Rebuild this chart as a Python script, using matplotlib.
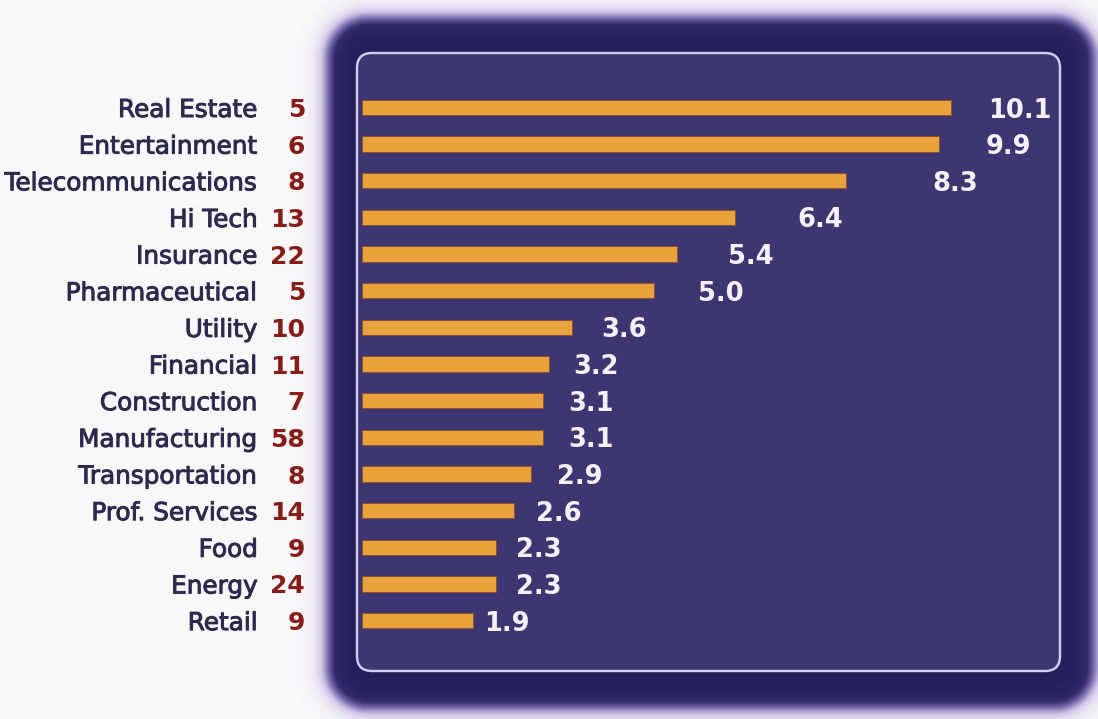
import numpy as np
import matplotlib
matplotlib.use("Agg")
import matplotlib.pyplot as plt
import matplotlib.patheffects as pe
from matplotlib.colors import LinearSegmentedColormap
from matplotlib.patches import FancyBboxPatch

# ---- data ----
categories = ["Real Estate", "Entertainment", "Telecommunications", "Hi Tech",
              "Insurance", "Pharmaceutical", "Utility", "Financial",
              "Construction", "Manufacturing", "Transportation",
              "Prof. Services", "Food", "Energy", "Retail"]
counts = [5, 6, 8, 13, 22, 5, 10, 11, 7, 58, 8, 14, 9, 24, 9]
values = [10.1, 9.9, 8.3, 6.4, 5.4, 5.0, 3.6, 3.2, 3.1, 3.1, 2.9, 2.6, 2.3, 2.3, 1.9]

# gap between bar end and its value label (pixels)
value_gap_px = [37, 46, 86, 62, 51, 45, 29, 25, 26, 26, 26, 22, 20, 20, 11]

W, H, DPI = 1098, 719, 100
PX = 72.0 / DPI  # points per pixel

fig = plt.figure(figsize=(W / DPI, H / DPI), dpi=DPI)
fig.patch.set_facecolor("#f8f8f9")

# ---- soft-edged dark panel behind the chart ----
bg = fig.add_axes([0, 0, 1, 1])
bg.set_xlim(0, W)
bg.set_ylim(H, 0)
bg.axis("off")

yy, xx = np.mgrid[0:H, 0:W] + 0.5
cx, cy = (328 + 1094) / 2, (18 + 708) / 2
hx, hy = (1094 - 328) / 2, (708 - 18) / 2
r = 40
qx = np.abs(xx - cx) - (hx - r)
qy = np.abs(yy - cy) - (hy - r)
dist = np.hypot(np.maximum(qx, 0), np.maximum(qy, 0)) + np.minimum(np.maximum(qx, qy), 0) - r
m = 1.0 / (1.0 + np.exp(dist / 6.0))
edge_cmap = LinearSegmentedColormap.from_list(
    "panel_edge", ["#f8f8f9", "#d0c8e6", "#7d6eb2", "#342c6c", "#25205b"])
img = edge_cmap(m)[..., :3]
bg.imshow(img, extent=[0, W, H, 0], interpolation="bilinear", zorder=0)

inner = FancyBboxPatch((357, 53), 1060 - 357, 671 - 53,
                       boxstyle="round,pad=0,rounding_size=15",
                       facecolor="#3d3671", edgecolor="#d3cef0",
                       linewidth=2.4 * PX, zorder=1)
bg.add_patch(inner)

# ---- bar chart ----
x0, x1 = 362, 1060
top, bottom = 53, 671
px_per_unit = 58.3
row0, row_step = 107.5, 36.65

ax = fig.add_axes([x0 / W, 1 - bottom / H, (x1 - x0) / W, (bottom - top) / H])
ax.patch.set_alpha(0)
for s in ax.spines.values():
    s.set_visible(False)
ax.set_xlim(0, (x1 - x0) / px_per_unit)
ax.set_ylim((bottom - row0) / row_step, (top - row0) / row_step)

ypos = np.arange(len(categories))
ax.barh(ypos, values, height=0.42, color="#e9a13b",
        edgecolor="#8e5130", linewidth=0.7, zorder=3)

ax.set_xticks([])
ax.set_yticks(ypos, categories)
ax.tick_params(axis="y", length=0, pad=(x0 - 258) * PX,
               labelsize=17.8, labelcolor="#2c2a4e")
label_stroke = [pe.withStroke(linewidth=0.7, foreground="#2c2a4e")]
for t in ax.get_yticklabels():
    t.set_path_effects(label_stroke)

ytr = ax.get_yaxis_transform()
for yi, c in zip(ypos, counts):
    ax.text((305 - x0) / (x1 - x0), yi, str(c), transform=ytr,
            ha="right", va="center_baseline", fontsize=18, fontweight="bold",
            color="#861d18", clip_on=False)

for yi, v, g in zip(ypos, values, value_gap_px):
    ax.annotate(f"{v:.1f}", xy=(v, yi), xytext=(g * PX, 0),
                textcoords="offset points", ha="left", va="center_baseline",
                fontsize=18.5, fontweight="bold", color="#f3f1fa", zorder=4)

fig.savefig("out.png", dpi=DPI)
